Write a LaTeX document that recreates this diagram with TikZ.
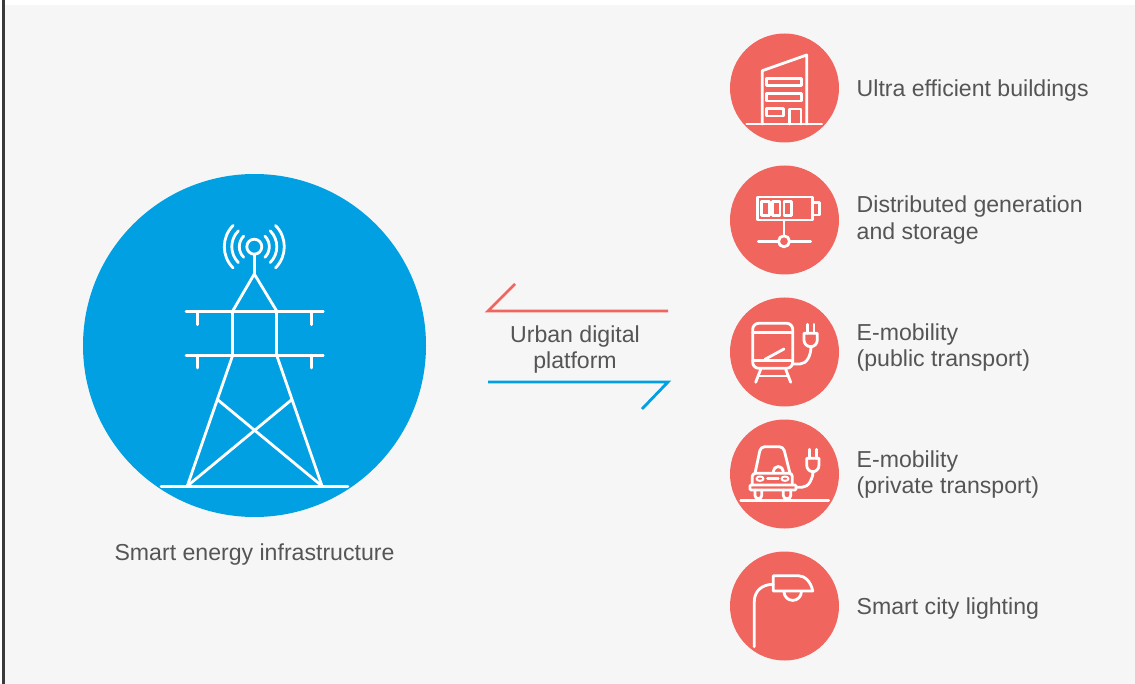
\documentclass[tikz,border=0pt]{standalone}
\usepackage{fontspec}
\setmainfont{Liberation Sans}
\definecolor{panelgray}{HTML}{F6F6F6}
\definecolor{barblack}{HTML}{3A3A3A}
\definecolor{gridblue}{HTML}{00A0E3}
\definecolor{cityred}{HTML}{F0665F}
\definecolor{labelgray}{HTML}{555555}
\tikzset{
  bighub/.style={circle,fill=gridblue,draw=none,minimum size=343pt,inner sep=0pt},
  cityhub/.style={circle,fill=cityred,draw=none,minimum size=109pt,inner sep=0pt},
  icon/.style={draw=white,line width=2.8pt,line join=round,line cap=round},
  caption/.style={text=labelgray,font=\fontsize{23.1}{26.5}\selectfont,inner sep=0pt},
  sidelabel/.style={caption,anchor=west,align=left},
  midlabel/.style={caption,anchor=center,align=center},
  flowline/.style={line width=2.8pt,line join=miter}
}
\begin{document}
\begin{tikzpicture}[x=1pt,y=-1pt]
\useasboundingbox (0,0) rectangle (1135,684);
\fill [white] (0,0) rectangle (1135,684);
\fill [panelgray] (5,5) rectangle (1135,684);
\fill [barblack] (2,0) rectangle (5,684);
% hubs
\node [bighub] (grid) at (254.5,345.5) {};
\node [cityhub] (build) at (784.5,88) {};
\node [cityhub] (store) at (784.5,220) {};
\node [cityhub] (public) at (784.5,352) {};
\node [cityhub] (private) at (784.5,474) {};
\node [cityhub] (lamp) at (784.5,606) {};
% labels
\node [caption,anchor=center] (gridtext) at (254.5,555) {Smart energy infrastructure};
\node [sidelabel] (buildtext) at (856.5,90.5) {Ultra efficient buildings};
\node [sidelabel] (storetext) at (856.5,220) {Distributed generation\\and storage};
\node [sidelabel] (publictext) at (856.5,347.5) {E-mobility\\(public transport)};
\node [sidelabel] (privatetext) at (856.5,474.5) {E-mobility\\(private transport)};
\node [sidelabel] (lamptext) at (856.5,608.5) {Smart city lighting};
\node [midlabel] (platform) at (575,349.5) {Urban digital\\platform};
% half arrows
\coordinate (redstart) at (668,311);
\coordinate (redend) at (488,311);
\coordinate (redtip) at (515,284);
\coordinate (bluestart) at (488,382);
\coordinate (blueend) at (668,382);
\coordinate (bluetip) at (642,409);
\draw [flowline,cityred] (redstart) -- (redend) -- (redtip);
\draw [flowline,gridblue] (bluestart) -- (blueend) -- (bluetip);
% tower
\draw [icon] (254.3,246.7) circle (7.5);
\draw [icon] (254.3,254.2) -- (254.3,274);
\foreach \r in {15,22.5,30} {
  \draw [icon] (254.3,246.7) ++(135:\r) arc (135:225:\r);
  \draw [icon] (254.3,246.7) ++(45:\r) arc (45:-45:\r);
}
\draw [icon] (232.7,311) -- (254.3,274) -- (276.7,311);
\draw [icon] (186,311.3) -- (323.3,311.3);
\draw [icon] (186,355.3) -- (323.3,355.3);
\draw [icon] (232.7,311) -- (232.7,355.3);
\draw [icon] (276.7,311) -- (276.7,355.3);
\foreach \x in {197.3,311.7} {
  \draw [icon] (\x,311.3) -- (\x,324.7);
  \draw [icon] (\x,355.3) -- (\x,368);
}
\draw [icon] (232.7,355.3) -- (187.3,486);
\draw [icon] (276.7,355.3) -- (322,486);
\draw [icon] (218,400) -- (322,486);
\draw [icon] (291.3,400) -- (187.3,486);
\draw [icon] (161,486.7) -- (348,486.7);
% building
\draw [icon] (746.7,124) -- (821.7,124);
\draw [icon] (762.3,124) -- (762.3,70.7) -- (806.7,55) -- (806.7,124);
\draw [icon] (766.7,78.3) rectangle (801.7,85.7);
\draw [icon] (766.7,93.3) rectangle (801.7,101);
\draw [icon] (766.7,108.3) rectangle (783.3,116);
\draw [icon] (789.3,124) -- (789.3,109) -- (801,109) -- (801,124);
% battery
\draw [icon] (757.3,197) rectangle (812.3,220);
\draw [icon] (812.3,202.7) -- (819.3,202.7) -- (819.3,215) -- (812.3,215);
\draw [icon] (761.7,201.7) rectangle (769.3,215.7);
\draw [icon] (772.7,201.7) rectangle (780,215.7);
\draw [icon] (784,201.7) rectangle (791.7,215.7);
\draw [icon] (784,220) -- (784,235.8);
\draw [icon] (784,241.3) circle (5.5);
\draw [icon] (758.3,241.3) -- (778.5,241.3);
\draw [icon] (789.5,241.3) -- (810.7,241.3);
% train
\draw [icon,rounded corners=6pt] (752.7,323.3) rectangle (792.7,368.3);
\draw [icon] (752.7,332.7) -- (792.7,332.7);
\draw [icon] (752.7,360.7) -- (792.7,360.7);
\draw [icon] (765,359.3) -- (784,349);
\draw [icon] (760.7,369.3) -- (755.7,382.3);
\draw [icon] (785.7,369.3) -- (790.7,382.3);
\draw [icon] (758.3,376) -- (788.3,376);
\draw [icon] (792.7,364) -- (800,364) .. controls (807,364) and (811,355) .. (811,346.7);
\draw [icon] (807.3,324.3) -- (807.3,333.3);
\draw [icon] (814,324.3) -- (814,333.3);
\draw [icon] (804,333.3) -- (817.3,333.3) -- (817.3,340) .. controls (817.3,344) and (814,346.7) .. (811,346.7) .. controls (807,346.7) and (804,344) .. (804,340) -- cycle;
% car
\draw [icon] (740.7,500.3) -- (828.7,500.3);
\draw [icon,rounded corners=4pt] (755,473.3) -- (760.7,446.7) -- (783.3,446.7) -- (790,473.3);
\draw [icon,rounded corners=3pt] (752.3,485) -- (752.3,473.3) -- (792.3,473.3) -- (792.3,485);
\draw [icon,rounded corners=1pt] (750,485) rectangle (796,490);
\draw [icon,rounded corners=3pt] (755,490) -- (755,498.5) -- (761.7,498.5) -- (761.7,490);
\draw [icon,rounded corners=3pt] (783.3,490) -- (783.3,498.5) -- (790.7,498.5) -- (790.7,490);
\draw [icon,line width=2pt] (760,478.7) ellipse (3.5 and 2.2);
\draw [icon,line width=2pt] (785,478.7) ellipse (3.5 and 2.2);
\draw [icon] (767.5,478.7) -- (778.3,478.7);
\draw [icon] (773.3,471.5) arc (180:360:5);
\draw [icon] (796,487.3) -- (802,487.3) .. controls (809,487.3) and (813,478) .. (813,471.7);
\draw [icon] (809.3,449.3) -- (809.3,458.3);
\draw [icon] (816.7,449.3) -- (816.7,458.3);
\draw [icon] (806.7,458.3) -- (819,458.3) -- (819,465) .. controls (819,469) and (816,471.7) .. (813,471.7) .. controls (809.5,471.7) and (806.7,469) .. (806.7,465) -- cycle;
% street lamp
\draw [icon] (754.3,646.7) -- (754.3,601.7) .. controls (754.3,591) and (762,584.3) .. (773.3,584.3);
\draw [icon] (773.3,575.7) -- (798.3,575.7) .. controls (805,575.7) and (811,582) .. (812.7,591) -- (773.3,591) -- cycle;
\draw [icon] (784,591.7) arc (180:0:8.7);
\end{tikzpicture}
\end{document}
